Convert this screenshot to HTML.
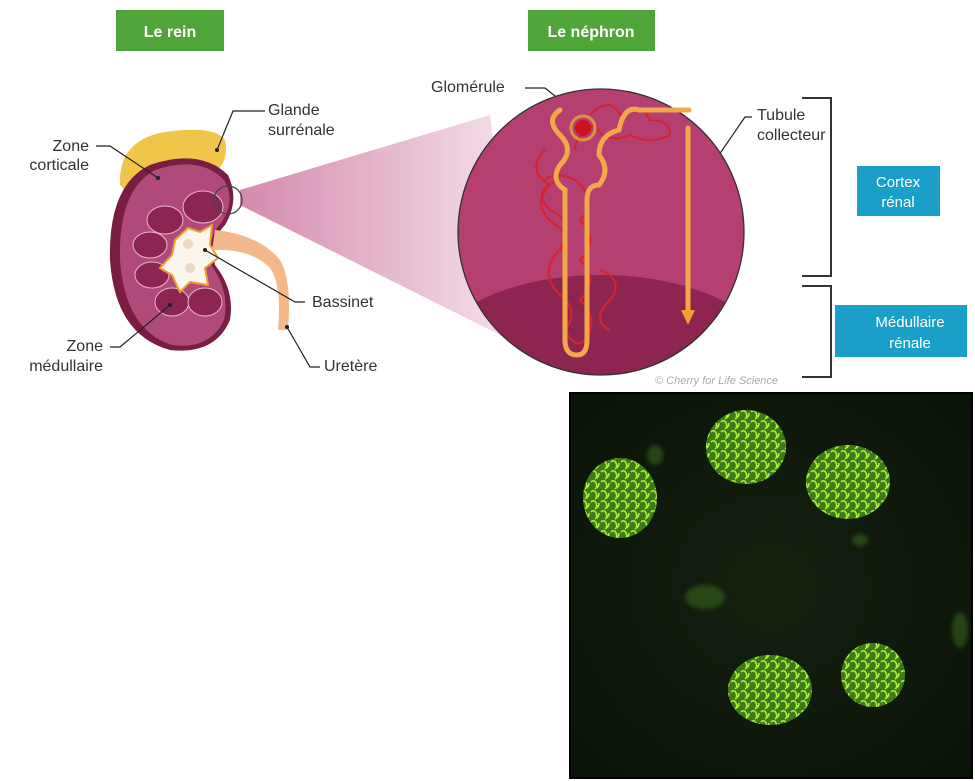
<!DOCTYPE html>
<html><head><meta charset="utf-8"><style>
body{margin:0;background:#fff;width:975px;height:781px;overflow:hidden}
svg{display:block}
text{font-family:"Liberation Sans",sans-serif}
</style></head><body>
<svg width="975" height="781" viewBox="0 0 975 781">
<defs>
<linearGradient id="cone" x1="0" x2="1" y1="0" y2="0">
<stop offset="0" stop-color="#d48aac"/><stop offset="1" stop-color="#f6e3ec"/></linearGradient>
<radialGradient id="bg" cx="0.5" cy="0.5" r="0.7">
<stop offset="0" stop-color="#13200f"/><stop offset="1" stop-color="#0a1308"/></radialGradient>
<pattern id="gl" width="10" height="10" patternUnits="userSpaceOnUse">
<rect width="10" height="10" fill="#3f7a18"/>
<path d="M1,2 q3,-3 5,1 q2,4 -1,6 M6,8 q3,-1 3,-5" stroke="#a8ec3c" stroke-width="1.6" fill="none"/>
</pattern>
<filter id="blur"><feGaussianBlur stdDeviation="2"/></filter>
<clipPath id="cc"><circle cx="601" cy="232" r="143"/></clipPath>
</defs>
<rect x="116" y="10" width="108" height="41" fill="#4fa43a"/>
<text x="170" y="37" font-size="16" font-weight="bold" fill="#fff" text-anchor="middle">Le rein</text>
<rect x="528" y="10" width="127" height="41" fill="#4fa43a"/>
<text x="591" y="37" font-size="16" font-weight="bold" fill="#fff" text-anchor="middle">Le néphron</text>
<polygon points="240,190 490,115 520,345 240,205" fill="url(#cone)"/>
<path d="M120,185 Q118,140 165,132 Q215,125 225,140 Q230,165 210,175 Q160,160 130,195 Z" fill="#f0c64a"/>
<path d="M150,165 Q200,148 228,175 Q240,200 225,225 Q210,240 215,265 Q235,290 230,320 Q215,355 170,350 Q115,335 110,260 Q108,185 150,165 Z" fill="#7a1d42"/>
<path d="M155,170 Q200,155 224,180 Q236,200 222,222 Q205,240 212,266 Q230,292 224,320 Q210,350 172,345 Q125,330 120,260 Q118,190 155,170 Z" fill="#b04a79"/>
<g fill="#8c2552" stroke="#e8b8cc" stroke-width="1">
<ellipse cx="203" cy="207" rx="20" ry="16"/>
<ellipse cx="165" cy="220" rx="18" ry="14"/>
<ellipse cx="150" cy="245" rx="17" ry="13"/>
<ellipse cx="152" cy="275" rx="17" ry="13"/>
<ellipse cx="172" cy="302" rx="17" ry="14"/>
<ellipse cx="205" cy="302" rx="17" ry="14"/>
</g>
<path d="M175,240 L188,228 L200,232 L212,225 L210,245 L218,258 L205,268 L208,285 L190,282 L180,292 L172,275 L160,268 L172,255 Z" fill="#fdf6ec" stroke="#f0a030" stroke-width="2"/>
<circle cx="188" cy="244" r="5" fill="#ead9c7"/><circle cx="190" cy="268" r="5" fill="#ead9c7"/>
<circle cx="228" cy="200" r="14" fill="none" stroke="#444" stroke-width="1.3"/>
<path d="M215,230 Q260,235 280,260 Q292,280 288,330 L278,330 Q282,285 270,268 Q250,248 212,250 Z" fill="#f3b98a"/>
<g font-size="16" fill="#333">
<text x="268" y="115">Glande</text><text x="268" y="135">surrénale</text>
<text x="89" y="151" text-anchor="end">Zone</text><text x="89" y="170" text-anchor="end">corticale</text>
<text x="312" y="307">Bassinet</text>
<text x="103" y="351" text-anchor="end">Zone</text><text x="103" y="371" text-anchor="end">médullaire</text>
<text x="324" y="371">Uretère</text>
<text x="431" y="92">Glomérule</text>
<text x="757" y="120">Tubule</text><text x="757" y="140">collecteur</text>
</g>
<g stroke="#222" stroke-width="1.2" fill="none">
<path d="M265,111 L233,111 L217,150"/>
<path d="M96,146 L110,146 L158,178"/>
<path d="M305,302 L295,302 L205,250"/>
<path d="M110,347 L120,347 L170,305"/>
<path d="M320,367 L310,367 L287,327"/>
<path d="M525,88 L545,88 L575,112"/>
<path d="M752,117 L745,117 L688,200"/>
</g>
<g fill="#222"><circle cx="217" cy="150" r="2"/><circle cx="158" cy="178" r="2"/><circle cx="205" cy="250" r="2"/><circle cx="170" cy="305" r="2"/><circle cx="287" cy="327" r="2"/><circle cx="575" cy="112" r="2"/><circle cx="688" cy="200" r="2"/></g>
<circle cx="601" cy="232" r="143" fill="#b63f72"/>
<g clip-path="url(#cc)"><ellipse cx="601" cy="360" rx="170" ry="85" fill="#8e2550"/></g>
<circle cx="601" cy="232" r="143" fill="none" stroke="#333" stroke-width="1.3"/>
<g fill="none" stroke="#d9222c" stroke-width="2">
<path d="M545,150 q-20,20 5,35 q-20,20 5,40 q20,10 0,30 q-15,20 5,40 q20,15 5,35 q10,20 20,10 q15,-20 -5,-40 q20,-20 0,-40 q20,-20 0,-40 q20,-20 -5,-40 q-20,-10 -30,0"/>
<path d="M590,115 q20,-20 30,0 q20,-15 30,5 q20,0 20,15 q-20,10 -40,0 q-25,10 -35,-10 q-20,10 -20,25"/>
<path d="M600,270 q25,10 10,30 q-20,20 0,30"/>
<path d="M560,180 q-30,10 -10,30 q25,10 10,40"/>
</g>
<g fill="none" stroke="#f0a848" stroke-width="5" stroke-linecap="round">
<path d="M560,110 q-15,10 0,25 q15,15 0,30 q-10,15 5,25 v150 q0,15 12,15 q10,0 10,-15 v-140 q0,-15 12,-15 q12,-15 0,-30 q0,-20 20,-25 q5,-25 20,-20 h50"/>
<path d="M688,128 v182"/>
</g>
<polygon points="681,310 695,310 688,325" fill="#f0a030"/>
<circle cx="583" cy="128" r="12" fill="none" stroke="#d99538" stroke-width="3"/>
<circle cx="583" cy="128" r="8" fill="#d0121e"/>
<text x="655" y="384" font-size="11" font-style="italic" fill="#aaa">© Cherry for Life Science</text>
<g stroke="#333" stroke-width="2" fill="none">
<path d="M802,98 H831 V276 H802"/>
<path d="M802,286 H831 V377 H802"/>
</g>
<rect x="857" y="166" width="83" height="50" fill="#1aa0c8"/>
<text x="898" y="187" font-size="15" fill="#fff" text-anchor="middle">Cortex</text>
<text x="898" y="207" font-size="15" fill="#fff" text-anchor="middle">rénal</text>
<rect x="835" y="305" width="132" height="52" fill="#1aa0c8"/>
<text x="910" y="327" font-size="15" fill="#fff" text-anchor="middle">Médullaire</text>
<text x="910" y="348" font-size="15" fill="#fff" text-anchor="middle">rénale</text>
<rect x="570" y="393" width="402" height="385" fill="url(#bg)" stroke="#000" stroke-width="2"/>
<g fill="#4f9a25" opacity="0.35" filter="url(#blur)">
<ellipse cx="705" cy="597" rx="20" ry="12"/><ellipse cx="860" cy="540" rx="8" ry="6"/><ellipse cx="960" cy="630" rx="8" ry="18"/><ellipse cx="655" cy="455" rx="8" ry="10"/>
</g>
<g fill="url(#gl)">
<ellipse cx="746" cy="447" rx="40" ry="37"/>
<ellipse cx="848" cy="482" rx="42" ry="37"/>
<ellipse cx="620" cy="498" rx="37" ry="40"/>
<ellipse cx="770" cy="690" rx="42" ry="35"/>
<ellipse cx="873" cy="675" rx="32" ry="32"/>
</g>
</svg>
</body></html>
